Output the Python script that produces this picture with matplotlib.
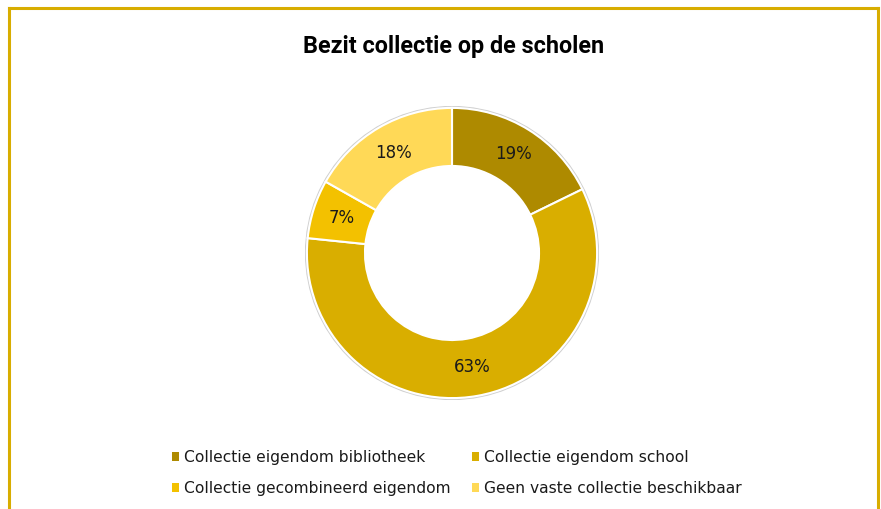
import matplotlib.pyplot as plt
import numpy as np
from matplotlib.patches import Patch, Circle
from matplotlib.lines import Line2D

# data
categories = ["Collectie eigendom bibliotheek", "Collectie eigendom school",
              "Collectie gecombineerd eigendom", "Geen vaste collectie beschikbaar"]
values = [19, 63, 7, 18]
colors = ["#AE8A00", "#D9AE00", "#F3C100", "#FFD957"]
title = "Bezit collectie op de scholen"

fig = plt.figure(figsize=(8.81, 5.09), dpi=100)
fig.patch.set_facecolor("white")

# gold frame lines (top, left, right)
gold = "#D8AD00"
fig.add_artist(Line2D([9/881, 878/881], [1 - 8/509, 1 - 8/509], color=gold, lw=2.2))
fig.add_artist(Line2D([9/881, 9/881], [0, 1 - 8/509], color=gold, lw=2.2))
fig.add_artist(Line2D([878/881, 878/881], [0, 1 - 8/509], color=gold, lw=2.2))

# donut axes: center (452,253), outer radius 145 px
cx, cy, r = 452, 253, 147
ax = fig.add_axes([(cx - r) / 881, 1 - (cy + r) / 509, 2 * r / 881, 2 * r / 509])
ax.add_patch(Circle((0, 0), 0.995, fill=False, edgecolor="#cfcfcf", lw=1.2))
ax.add_patch(Circle((0, 0), 0.595, fill=False, edgecolor="#d8d8d8", lw=1.0))
wedges, _ = ax.pie(values, colors=colors, startangle=90, counterclock=False,
                   radius=0.987, wedgeprops=dict(width=0.395, edgecolor="white", linewidth=1.5))
ax.set_xlim(-1, 1)
ax.set_ylim(-1, 1)
ax.set_aspect("equal")
ax.axis("off")

# percentage labels in the middle of the ring
total = sum(values)
ang = 90.0
for v in values:
    sweep = 360.0 * v / total
    mid = np.deg2rad(ang - sweep / 2)
    ax.text(0.79 * np.cos(mid), 0.79 * np.sin(mid), f"{v}%", ha="center", va="center",
            fontsize=12, color="#1a1a1a")
    ang -= sweep

fig.text(454 / 881, 1 - 47 / 509, title, ha="center", va="center",
         fontsize=16.8, fontweight="bold", family="Roboto", color="black")

# row-wise legend order
order = [0, 2, 1, 3]
handles = [Patch(facecolor=colors[i], edgecolor="none") for i in order]
labels = [categories[i] for i in order]
fig.legend(handles, labels, ncol=2, loc="center left",
           bbox_to_anchor=(158 / 881, 1 - 473 / 509), frameon=False,
           fontsize=11.2, handlelength=0.45, handleheight=0.45, handletextpad=0.3,
           columnspacing=1.4, labelspacing=1.02, labelcolor="#1a1a1a")

fig.savefig("out.png", dpi=100)
